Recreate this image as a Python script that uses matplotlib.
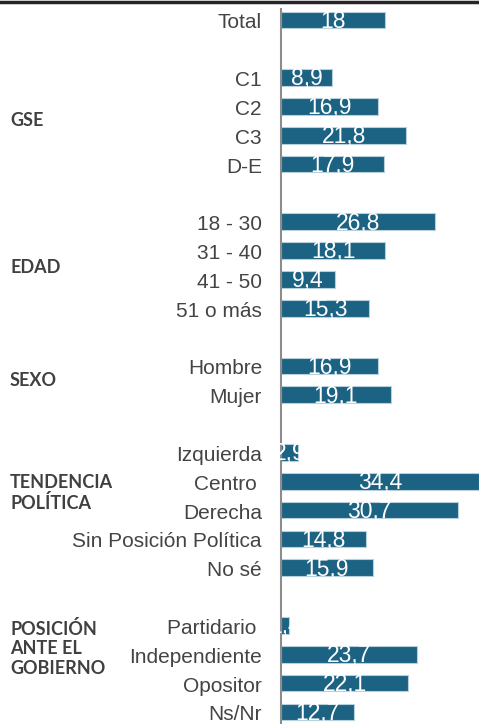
import matplotlib
matplotlib.use("Agg")
import matplotlib.pyplot as plt

categories = ["Total", "", "C1", "C2", "C3", "D-E", "",
              "18 - 30", "31 - 40", "41 - 50", "51 o más", "",
              "Hombre", "Mujer", "",
              "Izquierda", "Centro ", "Derecha", "Sin Posición Política", "No sé", "",
              "Partidario ", "Independiente", "Opositor", "Ns/Nr"]
values = [18, None, 8.9, 16.9, 21.8, 17.9, None,
          26.8, 18.1, 9.4, 15.3, None,
          16.9, 19.1, None,
          2.9, 34.4, 30.7, 14.8, 15.9, None,
          1.4, 23.7, 22.1, 12.7]
value_labels = ["18", "", "8,9", "16,9", "21,8", "17,9", "",
                "26,8", "18,1", "9,4", "15,3", "",
                "16,9", "19,1", "",
                "2,9", "34,4", "30,7", "14,8", "15,9", "",
                "1,4", "23,7", "22,1", "12,7"]
groups = ["GSE", "EDAD", "SEXO", "TENDENCIA\nPOLÍTICA", "POSICIÓN\nANTE EL\nGOBIERNO"]
group_pos = [3.5, 8.6, 12.5, 16.4, 21.8]

W, H = 479, 724
fig = plt.figure(figsize=(W / 100, H / 100), dpi=100)
ax = fig.add_axes([281 / W, 0, 1 - 281 / W, 1 - 9 / H])

bar_color = "#1b6283"
for i, v in enumerate(values):
    if v is None:
        continue
    b = ax.barh(i, v, height=0.58, color=bar_color, edgecolor="#b8d0dc", linewidth=0.8)
    rect = b.patches[0]
    t = ax.text(v / 2, i + 0.27, value_labels[i], color="white", ha="center", va="baseline",
                fontsize=16.5, family="Liberation Sans")
    t.set_clip_path(rect)

ax.set_xlim(0, 34.4)
ax.set_ylim(24.42, -0.38)
ax.set_xticks([])
ax.set_yticks([])
for s in ["top", "right", "bottom"]:
    ax.spines[s].set_visible(False)
ax.spines["left"].set_color("#8c8c8c")
ax.spines["left"].set_linewidth(1.5)

# category labels
for i, c in enumerate(categories):
    if c.strip() == "":
        continue
    ax.annotate(c, xy=(0, i), xycoords=("axes fraction", "data"),
                xytext=(-19, -1), textcoords="offset pixels",
                ha="right", va="center_baseline", fontsize=15, color="#444444",
                family="Liberation Sans", annotation_clip=False)

# group labels
for g, p in zip(groups, group_pos):
    ax.annotate(g, xy=(10 / W, p), xycoords=("figure fraction", "data"),
                ha="left", va="center", fontsize=13, fontweight="bold",
                color="#404040", family="Lato", linespacing=1.2,
                annotation_clip=False)

# top dark border
fig.add_artist(plt.Line2D([0, 1], [1 - 1.5 / H, 1 - 1.5 / H], color="#262626",
                          linewidth=2.5, transform=fig.transFigure))

fig.savefig("out.png", dpi=100)
